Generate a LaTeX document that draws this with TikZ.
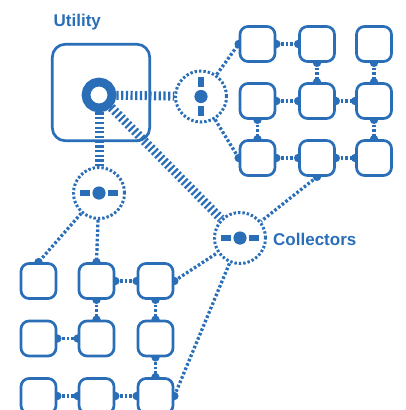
\documentclass[tikz,border=0pt]{standalone}
\usepackage{fontspec}
\setmainfont{Liberation Sans}
\pgfdeclarelayer{bg}
\pgfsetlayers{bg,main}
\definecolor{ub}{HTML}{2A6EB8}
\tikzset{
  sqbox/.style={draw=ub, line width=2.7pt, rounded corners=8pt, fill=white, minimum size=35pt, inner sep=0pt},
  hubnode/.style={circle, draw=ub, line width=3pt, dash pattern=on 2.4pt off 2pt, fill=white, minimum size=51pt, inner sep=0pt},
  conn/.style={draw=ub, line width=3.3pt, dash pattern=on 2.6pt off 2.1pt},
  thickconn/.style={draw=ub, line width=9pt, dash pattern=on 2.2pt off 2.5pt},
  bump/.style={fill=ub},
  lbl/.style={text=ub, font=\fontsize{17}{20}\selectfont\bfseries, inner sep=0pt},
}
\newcommand{\hubinnerH}[1]{%
  \fill[ub] (#1) circle (6.6pt);
  \fill[ub] ($(#1)+(-14.2pt,0)$) +(-5pt,-3.3pt) rectangle +(5pt,3.3pt);
  \fill[ub] ($(#1)+(14.2pt,0)$) +(-5pt,-3.3pt) rectangle +(5pt,3.3pt);}
\newcommand{\hubinnerV}[1]{%
  \fill[ub] (#1) circle (6.6pt);
  \fill[ub] ($(#1)+(0,14.2pt)$) +(-3.3pt,-5pt) rectangle +(3.3pt,5pt);
  \fill[ub] ($(#1)+(0,-14.2pt)$) +(-3.3pt,-5pt) rectangle +(3.3pt,5pt);}
\usetikzlibrary{calc}
\begin{document}
\begin{tikzpicture}[x=1pt,y=-1pt]
\useasboundingbox (0,0) rectangle (405,410);
% labels
\node[lbl, anchor=base west] (utl) at (53.5,26) {Utility};
\node[lbl, anchor=base west] (col) at (273,245) {Collectors};
% utility box and ring
\node[draw=ub, line width=2.7pt, rounded corners=13pt, minimum width=97.4pt, minimum height=96.5pt, inner sep=0pt] (ubox) at (101,92.5) {};
\node[circle, draw=ub, line width=8.8pt, fill=white, minimum size=26pt, inner sep=0pt] (ring) at (99,95) {};
% hubs
\node[hubnode] (hubA) at (201,96.5) {};
\node[hubnode] (hubB) at (99,193) {};
\node[hubnode] (hubC) at (240,238) {};
\hubinnerV{hubA}
\hubinnerH{hubB}
\hubinnerH{hubC}
% top-right grid
\foreach \r/\y in {1/44,2/101,3/158}{
  \foreach \c/\x in {1/257.5,2/317,3/374}{
    \node[sqbox] (t\r\c) at (\x,\y) {};
  }
}
% bottom-left grid
\foreach \r/\y in {1/281,2/338.5,3/396}{
  \foreach \c/\x in {1/38.5,2/96.5,3/155.5}{
    \node[sqbox] (b\r\c) at (\x,\y) {};
  }
}
\begin{pgfonlayer}{bg}
  % utility feeders
  \draw[thickconn] (ring) -- (hubA);
  \draw[thickconn] (ring) -- (hubB);
  \draw[thickconn] (ring) -- (hubC);
  % hub to squares
  \draw[conn] (hubA) -- (t11.west);
  \draw[conn] (hubA) -- (t31.west);
  \draw[conn] (hubB) -- (b11.north);
  \draw[conn] (hubB) -- (b12.north);
  \draw[conn] (t32.south) -- (hubC);
  \draw[conn] (b13.east) -- (hubC);
  \draw[conn] (b33.east) -- (hubC);
  \foreach \a in {t11.west,t31.west,b11.north,b12.north,t32.south,b13.east,b33.east}{
    \fill[bump] (\a) circle (4.2pt);
  }
  % square to square (horizontal)
  \foreach \a/\b in {t11/t12,t21/t22,t22/t23,t31/t32,t32/t33,b12/b13,b21/b22,b31/b32,b32/b33}{
    \draw[conn] (\a.east) -- (\b.west);
    \fill[bump] (\a.east) circle (4.2pt);
    \fill[bump] (\b.west) circle (4.2pt);
  }
  % square to square (vertical)
  \foreach \a/\b in {t12/t22,t13/t23,t21/t31,t23/t33,b12/b22,b13/b23,b23/b33}{
    \draw[conn] (\a.south) -- (\b.north);
    \fill[bump] (\a.south) circle (4.2pt);
    \fill[bump] (\b.north) circle (4.2pt);
  }
\end{pgfonlayer}
\end{tikzpicture}
\end{document}
